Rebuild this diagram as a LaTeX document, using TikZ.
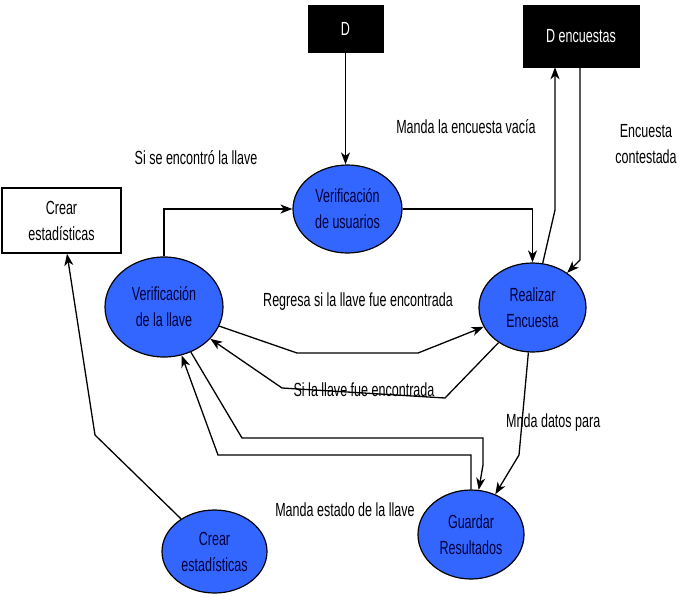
\documentclass[tikz,border=0pt]{standalone}
\usepackage{fontspec}
\setmainfont{Liberation Sans}[FakeStretch=0.66]
\usetikzlibrary{shapes.geometric,arrows.meta,calc}
\definecolor{procblue}{RGB}{51,102,255}
\definecolor{proctext}{RGB}{0,0,60}
\begin{document}
\begin{tikzpicture}[x=1pt,y=-1pt,
  every node/.style={font=\fontsize{19}{26}\selectfont},
  proc/.style={ellipse,draw=black,line width=1.2pt,fill=procblue,text=proctext,inner sep=0pt,align=center},
  store/.style={rectangle,draw=black,fill=black,text=white,inner sep=0pt},
  ent/.style={rectangle,draw=black,line width=1.4pt,fill=white,inner sep=0pt,align=center},
  flow/.style={draw=black,line width=1.3pt,-{Stealth[length=12pt,width=9pt,inset=3.5pt]}},
  lbl/.style={inner sep=0pt,align=center}]
\useasboundingbox[fill=white] (0,0) rectangle (680,600);

\node[store,minimum width=75pt,minimum height=47pt] (D) at (345.5,28.5) {D};
\node[store,minimum width=116pt,minimum height=62pt] (DE) at (581,36) {D encuestas};
\node[ent,minimum width=119pt,minimum height=65pt] (CB) at (61.5,220.5) {Crear\\estadísticas};
\node[proc,minimum width=109pt,minimum height=88pt] (VU) at (347.5,209) {Verificación\\de usuarios};
\node[proc,minimum width=107pt,minimum height=89pt] (RE) at (532.5,307.5) {Realizar\\Encuesta};
\node[proc,minimum width=118pt,minimum height=100pt] (VL) at (164,307) {Verificación\\de la llave};
\node[proc,minimum width=106pt,minimum height=89pt] (G) at (471,534.5) {Guardar\\Resultados};
\node[proc,minimum width=105pt,minimum height=83pt] (CE) at (214.5,551.5) {Crear\\estadísticas};

\draw[flow] (D.south) -- (D.south |- VU.north);
\draw[flow] (VU.east) -| (RE.north);
\coordinate (b3) at (555,210);
\draw[flow] (RE) -- (b3) -- (b3 |- DE.south);
\coordinate (b4) at (580,260);
\draw[flow] (b4 |- DE.south) -- (b4) -- (RE);
\draw[flow] (VL.north) |- (VU.west);
\coordinate (b6a) at (297,353);
\coordinate (b6b) at (418,353);
\draw[flow] (VL) -- (b6a) -- (b6b) -- (RE);
\coordinate (b7a) at (445,398);
\coordinate (b7b) at (282,388);
\draw[flow] (RE) -- (b7a) -- (b7b) -- (VL);
\coordinate (b8) at (519,455);
\draw[flow] (RE) -- (b8) -- (G);
\coordinate (bAa) at (242,438);
\coordinate (bAb) at (483,465);
\draw[flow] (VL) -- (bAa) -| (bAb) -- (G);
\coordinate (bB) at (218,455);
\draw[flow] (G.north) |- (bB) -- (VL);
\coordinate (b10) at (95,435);
\draw[flow] (CE) -- (b10) -- ($(CB.south)+(5.5,0)$);

\node[lbl] (l1) at (196,158) {Si se encontró la llave};
\node[lbl] (l2) at (466,127) {Manda la encuesta vacía};
\node[lbl] (l3) at (646,144) {Encuesta\\contestada};
\node[lbl] (l4) at (358,302) {Regresa si la llave fue encontrada};
\node[lbl] (l5) at (364,390) {Si la llave fue encontrada};
\node[lbl,anchor=west] (l6) at (506,423) {Mnda datos para};
\node[lbl] (l7) at (345,510) {Manda estado de la llave};
\end{tikzpicture}
\end{document}
